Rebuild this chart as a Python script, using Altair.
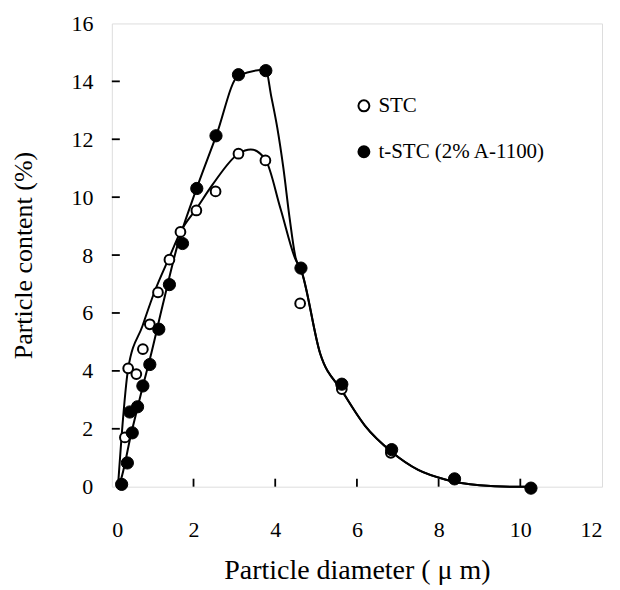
import altair as alt
import pandas as pd

# ---- data ----
stc_x = [0.32, 0.40, 0.60, 0.76, 0.93, 1.13, 1.41, 1.68, 2.07, 2.54, 3.10, 3.76, 4.61, 5.63, 6.83]
stc_y = [1.70, 4.09, 3.89, 4.75, 5.61, 6.71, 7.84, 8.80, 9.54, 10.20, 11.50, 11.27, 6.33, 3.37, 1.17]

tstc_x = [0.24, 0.38, 0.44, 0.50, 0.63, 0.76, 0.93, 1.15, 1.41, 1.73, 2.08, 2.55, 3.10, 3.77, 4.63, 5.63, 6.85, 8.39, 10.26]
tstc_y = [0.08, 0.82, 2.58, 1.86, 2.76, 3.48, 4.22, 5.44, 6.98, 8.40, 10.30, 12.12, 14.23, 14.37, 7.55, 3.54, 1.28, 0.27, -0.05]

# smooth fitted curves
stc_curve_x = [0.15, 0.24, 0.40, 0.75, 1.05, 1.40, 1.70, 2.07, 2.47, 3.10, 3.40, 3.76, 4.13, 4.50, 4.63, 5.10, 5.64, 6.20, 6.86, 7.50, 8.16, 9.00, 9.80, 10.30]
stc_curve_y = [0.00, 1.76, 4.08, 5.55, 6.75, 7.90, 8.85, 9.60, 10.44, 11.50, 11.65, 11.30, 9.60, 7.84, 7.50, 4.60, 3.30, 2.10, 1.19, 0.58, 0.25, 0.05, 0.00, 0.00]

tstc_curve_x = [0.15, 0.20, 0.48, 0.76, 0.93, 1.25, 1.60, 2.00, 2.55, 3.10, 3.77, 3.90, 4.05, 4.20, 4.35, 4.50, 4.63, 5.10, 5.64, 6.20, 6.86, 7.50, 8.16, 9.00, 9.80, 10.30]
tstc_curve_y = [0.00, 0.15, 1.87, 3.48, 4.40, 6.30, 8.30, 10.00, 12.10, 14.20, 14.40, 13.50, 12.40, 11.00, 9.30, 7.90, 7.50, 4.60, 3.30, 2.10, 1.19, 0.58, 0.25, 0.05, 0.00, 0.00]

series_names = ["STC", "t-STC (2% A-1100)"]
x_ticks = [2, 4, 6, 8, 10]
y_ticks = [2, 4, 6, 8, 10, 12, 14]
x_labels_vals = [0, 2, 4, 6, 8, 10, 12]
y_labels_vals = [0, 2, 4, 6, 8, 10, 12, 14, 16]

W, H = 491, 464
XMAX, YMAX = 12, 16
TK = 8  # inward tick length (px)
FONT = "Liberation Serif"
XT = "Particle diameter ( \u03bc m)"
YT = "Particle content (%)"

# ---- tables ----
stc_df = pd.DataFrame({"x": stc_x, "y": stc_y, "series": series_names[0]})
tstc_df = pd.DataFrame({"x": tstc_x, "y": tstc_y, "series": series_names[1]})
curve_df = pd.concat([
    pd.DataFrame({"x": stc_curve_x, "y": stc_curve_y, "curve": "a", "order": range(len(stc_curve_x))}),
    pd.DataFrame({"x": tstc_curve_x, "y": tstc_curve_y, "curve": "b", "order": range(len(tstc_curve_x))}),
])

# inward tick segments: each tick value gives a 2-point segment starting on the frame
tick_len_y = YMAX * TK / H   # x-axis ticks, in y units
tick_len_x = XMAX * TK / W   # y-axis ticks, in x units
seg_rows = []
for v in x_ticks:
    seg_rows.append({"x": float(v), "y": 0.0, "seg": f"x{v}", "order": 0})
    seg_rows.append({"x": float(v), "y": tick_len_y, "seg": f"x{v}", "order": 1})
for v in y_ticks:
    seg_rows.append({"x": 0.0, "y": float(v), "seg": f"y{v}", "order": 0})
    seg_rows.append({"x": tick_len_x, "y": float(v), "seg": f"y{v}", "order": 1})
tick_df = pd.DataFrame(seg_rows)

xscale = alt.Scale(domain=[0, XMAX], nice=False, zero=False)
yscale = alt.Scale(domain=[0, YMAX], nice=False, zero=False)

xaxis = alt.Axis(values=x_labels_vals, title=XT, grid=False, ticks=False, domain=False,
                 labelFont=FONT, labelFontSize=22, labelPadding=33, labelColor="black",
                 titleFont=FONT, titleFontSize=28, titleFontWeight="normal", titleColor="black",
                 titlePadding=16)
yaxis = alt.Axis(values=y_labels_vals, title=YT, grid=False, ticks=False, domain=False,
                 labelFont=FONT, labelFontSize=22, labelPadding=19, labelColor="black",
                 titleFont=FONT, titleFontSize=26, titleFontWeight="normal", titleColor="black",
                 titlePadding=34)

X = alt.X("x:Q", scale=xscale, axis=xaxis, title=XT)
Y = alt.Y("y:Q", scale=yscale, axis=yaxis, title=YT)

fill_scale = alt.Scale(domain=series_names, range=["white", "black"])
legend = alt.Legend(title=None, orient="none", legendX=242, legendY=72,
                    labelFont=FONT, labelFontSize=21, labelColor="black", labelLimit=400,
                    symbolType="circle", symbolSize=120, symbolStrokeColor="black",
                    symbolStrokeWidth=2, rowPadding=24, labelOffset=4, padding=0)

ticks_layer = alt.Chart(tick_df).mark_line(color="black", strokeWidth=1.8, interpolate="linear").encode(
    x=X, y=Y, detail="seg:N", order="order:Q")

lines = alt.Chart(curve_df).mark_line(color="black", strokeWidth=2, interpolate="monotone").encode(
    x=X, y=Y, detail="curve:N", order="order:Q")

open_pts = alt.Chart(stc_df).mark_point(shape="circle", filled=True, stroke="black",
                                         strokeWidth=2, size=95, opacity=1).encode(
    x=X, y=Y, fill=alt.Fill("series:N", scale=fill_scale, legend=legend))

filled_pts = alt.Chart(tstc_df).mark_point(shape="circle", filled=True, stroke="black",
                                            strokeWidth=1, size=150, opacity=1).encode(
    x=X, y=Y, fill=alt.Fill("series:N", scale=fill_scale, legend=legend))

chart = alt.layer(ticks_layer, lines, open_pts, filled_pts).properties(
    width=W, height=H,
    autosize=alt.AutoSizeParams(type="none"),
    padding={"left": 104, "top": 15, "right": 10, "bottom": 100},
).configure_view(stroke="black", strokeWidth=2.5).configure(background="white")

chart.save("out.html", embed_options={"renderer": "svg", "actions": False})
